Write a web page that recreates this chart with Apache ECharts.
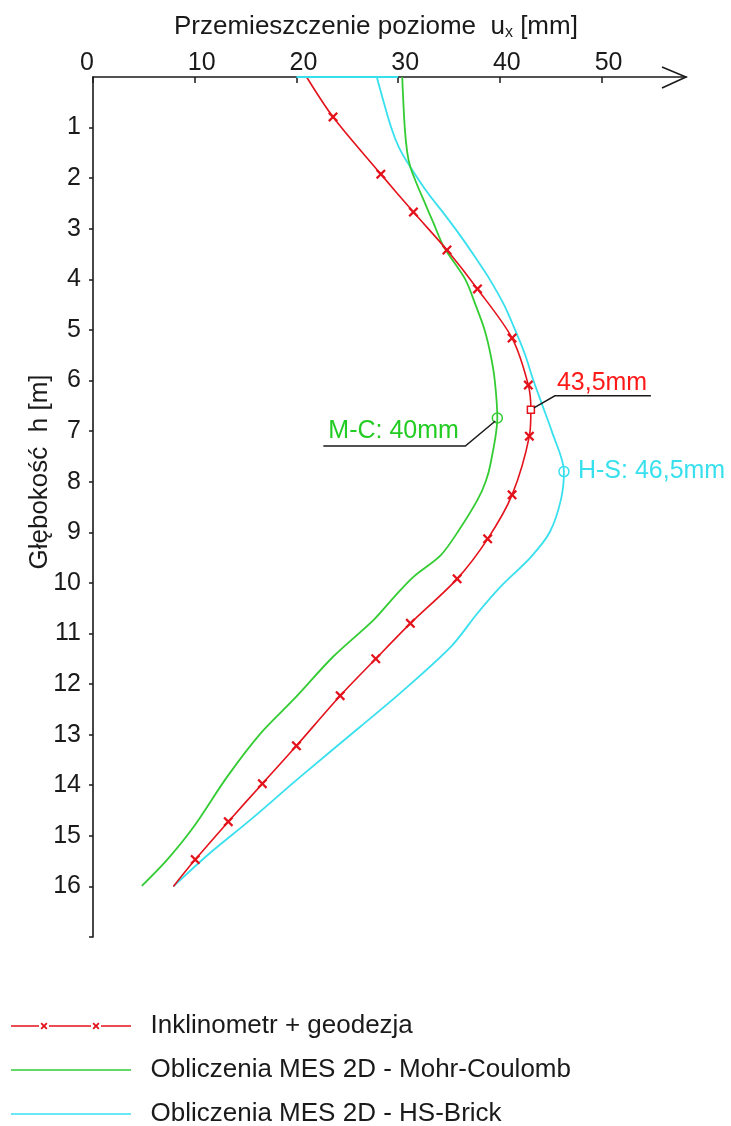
<!DOCTYPE html>
<html>
<head>
<meta charset="utf-8">
<title>Przemieszczenie poziome</title>
<script src="https://cdn.jsdelivr.net/npm/echarts@6/dist/echarts.min.js"></script>
<style>
  html, body { margin: 0; padding: 0; background: #fff; }
  #chart { width: 731px; height: 1126px; }
</style>
</head>
<body>
<div id="chart"></div>
<script>
  // Inklinometr + geodezja (markers x), depth h [m] / ux [mm]
  const inklDepth = [0, 0.79, 1.92, 2.67, 3.42, 4.19, 5.16, 6.09, 6.58, 7.10, 8.26, 9.13, 9.92, 10.80, 11.50, 12.23, 13.22, 13.97, 14.72, 15.47, 16.0]
  const inklUx = [21.0, 23.6, 28.3, 31.5, 34.8, 37.8, 41.2, 42.8, 43.05, 42.9, 41.2, 38.8, 35.8, 31.2, 27.8, 24.3, 20.0, 16.65, 13.3, 10.05, 7.9]

  // MES 2D - Mohr-Coulomb
  const mcDepth = [0, 1.0, 1.5, 1.78, 2.1, 2.43, 2.9, 3.36, 4.0, 4.5, 5.0, 5.5, 6.0, 6.74, 7.63, 8.0, 8.36, 8.95, 9.45, 9.88, 10.28, 10.73, 11.46, 12.31, 12.97, 13.83, 14.82, 15.47, 15.99]
  const mcUx = [30.4, 30.65, 30.9, 31.2, 31.8, 32.5, 33.5, 34.5, 36.6, 37.6, 38.5, 39.1, 39.5, 39.75, 39.1, 38.6, 37.8, 36.0, 34.2, 31.5, 29.6, 27.6, 23.6, 19.7, 16.5, 13.2, 9.9, 7.3, 4.8]

  // MES 2D - HS-Brick
  const hsDepth = [0, 0.99, 1.4, 1.78, 2.29, 2.7, 3.16, 3.6, 4.0, 4.5, 5.0, 5.5, 6.0, 6.5, 7.0, 7.8, 8.36, 9.0, 9.5, 10.07, 10.6, 11.26, 12.18, 12.84, 13.83, 14.68, 15.34, 16.0]
  const hsUx = [27.9, 29.3, 30.1, 31.2, 32.9, 34.5, 36.2, 37.7, 39.0, 40.4, 41.5, 42.5, 43.3, 44.2, 45.1, 46.3, 46.0, 44.9, 43.0, 40.1, 37.8, 35.2, 30.2, 26.3, 20.4, 15.5, 11.5, 7.9]
  const hsTopUx = [20, 30] // cyan segment lying on the axis at h = 0

  // maxima marked on the curves
  const inklPeak = 8
  const mcPeak = 13
  const hsPeak = 15
  const peakLabels = ['43,5mm', 'M-C: 40mm', 'H-S: 46,5mm']

  const xTicks = [0, 10, 20, 30, 40, 50]
  const yLabels = [1, 2, 3, 4, 5, 6, 7, 8, 9, 10, 11, 12, 13, 14, 15, 16]
  const yTickMarks = [1, 2, 3, 4, 5, 6, 7, 8, 9, 10, 11, 12, 13, 14, 15, 16, 17]

  const names = ['Inklinometr + geodezja', 'Obliczenia MES 2D - Mohr-Coulomb', 'Obliczenia MES 2D - HS-Brick']

  const RED = '#e3121b'
  const GREEN = '#33cc33'
  const CYAN = '#38e0ee'
  const INK = '#1a1a1a'
  const FONT = '"Liberation Sans", Arial, sans-serif'
  const X_MAX = 58.3

  const X_MARK = 'path://M0,1.6L1.6,0L5,3.4L8.4,0L10,1.6L6.6,5L10,8.4L8.4,10L5,6.6L1.6,10L0,8.4L3.4,5Z'
  // legend icon: line with two x marks
  function xAt(cx) {
    const a = 3.5, t = 1.3, cy = 3.5
    return 'M' + (cx - a) + ',' + (cy - a + t) + 'L' + (cx - a + t) + ',' + (cy - a) + 'L' + cx + ',' + (cy - t) +
      'L' + (cx + a - t) + ',' + (cy - a) + 'L' + (cx + a) + ',' + (cy - a + t) + 'L' + (cx + t) + ',' + cy +
      'L' + (cx + a) + ',' + (cy + a - t) + 'L' + (cx + a - t) + ',' + (cy + a) + 'L' + cx + ',' + (cy + t) +
      'L' + (cx - a + t) + ',' + (cy + a) + 'L' + (cx - a) + ',' + (cy + a - t) + 'L' + (cx - t) + ',' + cy + 'Z'
  }
  const seg = (x0, x1) => 'M' + x0 + ',2.7L' + x1 + ',2.7L' + x1 + ',4.3L' + x0 + ',4.3Z'
  const LEGEND_X = 'path://' + seg(0, 28) + xAt(33) + seg(38, 80) + xAt(85) + seg(90, 120)
  // plain line icon, same 120x7 box
  const LEGEND_LINE = 'path://M0,0L0.01,0L0.01,0.01L0,0.01ZM0,6.99L0.01,6.99L0.01,7L0,7Z' + seg(0, 120)

  const inklData = inklUx.map((u, i) => {
    const item = { value: [u, inklDepth[i]] }
    if (i === 0 || i === inklUx.length - 1) item.symbol = 'none'
    if (i === inklPeak) {
      item.symbol = 'rect'
      item.symbolSize = 7
      item.itemStyle = { color: '#fff', borderColor: RED, borderWidth: 1.5 }
    }
    return item
  })

  function curveData(ux, depth, peak, color) {
    return ux.map((u, i) => {
      const item = { value: [u, depth[i]], symbol: 'none' }
      if (i === peak) {
        item.symbol = 'circle'
        item.symbolSize = 10
        item.itemStyle = { color: 'rgba(255,255,255,0)', borderColor: color, borderWidth: 1.5 }
      }
      return item
    })
  }
  const mcData = curveData(mcUx, mcDepth, mcPeak, GREEN)
  const hsData = curveData(hsUx, hsDepth, hsPeak, CYAN)

  const chart = echarts.init(document.getElementById('chart'))

  chart.setOption({
    backgroundColor: '#fff',
    animation: false,
    textStyle: { fontFamily: FONT },
    title: {
      text: 'Przemieszczenie poziome  u{s|x} [mm]',
      left: 169,
      top: 7,
      textStyle: {
        fontFamily: FONT, fontSize: 26, fontWeight: 'normal', color: INK,
        rich: { s: { fontFamily: FONT, fontSize: 16, color: INK, padding: [13, 0, 0, 0] } }
      }
    },
    legend: {
      data: [
        { name: names[0], icon: LEGEND_X },
        { name: names[1], icon: LEGEND_LINE },
        { name: names[2], icon: LEGEND_LINE }
      ],
      orient: 'vertical',
      left: 11,
      bottom: -1,
      padding: 0,
      itemWidth: 120,
      itemHeight: 7,
      itemGap: 18,
      symbolKeepAspect: true,
      textStyle: { fontFamily: FONT, fontSize: 26, color: INK, lineHeight: 24, padding: [0, 0, 0, 14.5] }
    },
    grid: { left: 93, right: 731 - 686, top: 77, bottom: 1126 - 937 },
    xAxis: {
      type: 'value',
      position: 'top',
      min: 0,
      max: X_MAX,
      splitLine: { show: false },
      axisLine: { lineStyle: { color: INK, width: 1.6 } },
      axisTick: { inside: true, length: 6, customValues: xTicks, lineStyle: { color: INK, width: 1.5 } },
      axisLabel: {
        customValues: xTicks,
        margin: 1,
        formatter: v => v === 0 ? '{z|0}' : '{n|' + v + '}',
        rich: {
          n: { fontFamily: FONT, fontSize: 25, color: INK, padding: [0, 0, 0, 14] },
          z: { fontFamily: FONT, fontSize: 25, color: INK, padding: [0, 12, 0, 0] }
        }
      }
    },
    yAxis: {
      type: 'value',
      inverse: true,
      min: 0,
      max: 17,
      interval: 1,
      splitLine: { show: false },
      axisLine: { lineStyle: { color: INK, width: 1.6 } },
      axisTick: { length: 4, customValues: yTickMarks, lineStyle: { color: INK, width: 1.5 } },
      axisLabel: { customValues: yLabels, margin: 12, fontFamily: FONT, fontSize: 25, color: INK }
    },
    series: [
      {
        name: names[0],
        type: 'line',
        data: inklData,
        smooth: 0.3,
        symbol: X_MARK,
        symbolSize: 10,
        itemStyle: { color: RED },
        lineStyle: { color: RED, width: 1.6 },
        z: 4
      },
      {
        name: names[1],
        type: 'line',
        data: mcData,
        smooth: 0.3,
        symbol: 'none',
        itemStyle: { color: GREEN },
        lineStyle: { color: GREEN, width: 1.8 },
        z: 3
      },
      {
        name: names[2],
        type: 'line',
        data: hsData,
        smooth: 0.3,
        symbol: 'none',
        itemStyle: { color: CYAN },
        lineStyle: { color: CYAN, width: 1.8 },
        z: 2
      },
      {
        name: names[2],
        type: 'line',
        data: hsTopUx.map(u => [u, 0]),
        symbol: 'none',
        silent: true,
        lineStyle: { color: CYAN, width: 2 },
        z: 5
      }
    ]
  })

  // annotations placed from data coordinates
  const P = v => chart.convertToPixel({ gridIndex: 0 }, v)
  const r = P([inklUx[inklPeak], inklDepth[inklPeak]])
  const g = P([mcUx[mcPeak], mcDepth[mcPeak]])
  const h = P([hsUx[hsPeak], hsDepth[hsPeak]])
  const a = P([X_MAX, 0])
  const leader = { stroke: INK, lineWidth: 1.5, fill: null }
  const labelFont = '25px ' + FONT

  chart.setOption({
    graphic: [
      // arrow at the end of the horizontal axis
      { type: 'polyline', shape: { points: [[a[0] - 24, a[1] - 10], [a[0], a[1]], [a[0] - 24, a[1] + 11]] }, style: { stroke: INK, lineWidth: 1.6, fill: null } },
      { type: 'polyline', shape: { points: [[r[0] + 3, r[1] - 2], [r[0] + 24, r[1] - 14], [r[0] + 120, r[1] - 14]] }, style: leader, z: 10 },
      { type: 'text', x: r[0] + 26, y: r[1] - 27, style: { text: peakLabels[0], font: labelFont, fill: '#ff1a1a', verticalAlign: 'middle' } },
      { type: 'polyline', shape: { points: [[g[0] - 2, g[1] + 3], [g[0] - 32, g[1] + 28], [g[0] - 174, g[1] + 28]] }, style: leader, z: 10 },
      { type: 'text', x: g[0] - 169, y: g[1] + 13, style: { text: peakLabels[1], font: labelFont, fill: '#22cc22', verticalAlign: 'middle' } },
      { type: 'text', x: h[0] + 14, y: h[1], style: { text: peakLabels[2], font: labelFont, fill: CYAN, verticalAlign: 'middle' } },
      {
        type: 'text', x: 40, y: 472, rotation: Math.PI / 2,
        style: { text: 'Głębokość  h [m]', font: '26px ' + FONT, fill: INK, align: 'center', verticalAlign: 'middle' }
      }
    ]
  })
</script>
</body>
</html>
